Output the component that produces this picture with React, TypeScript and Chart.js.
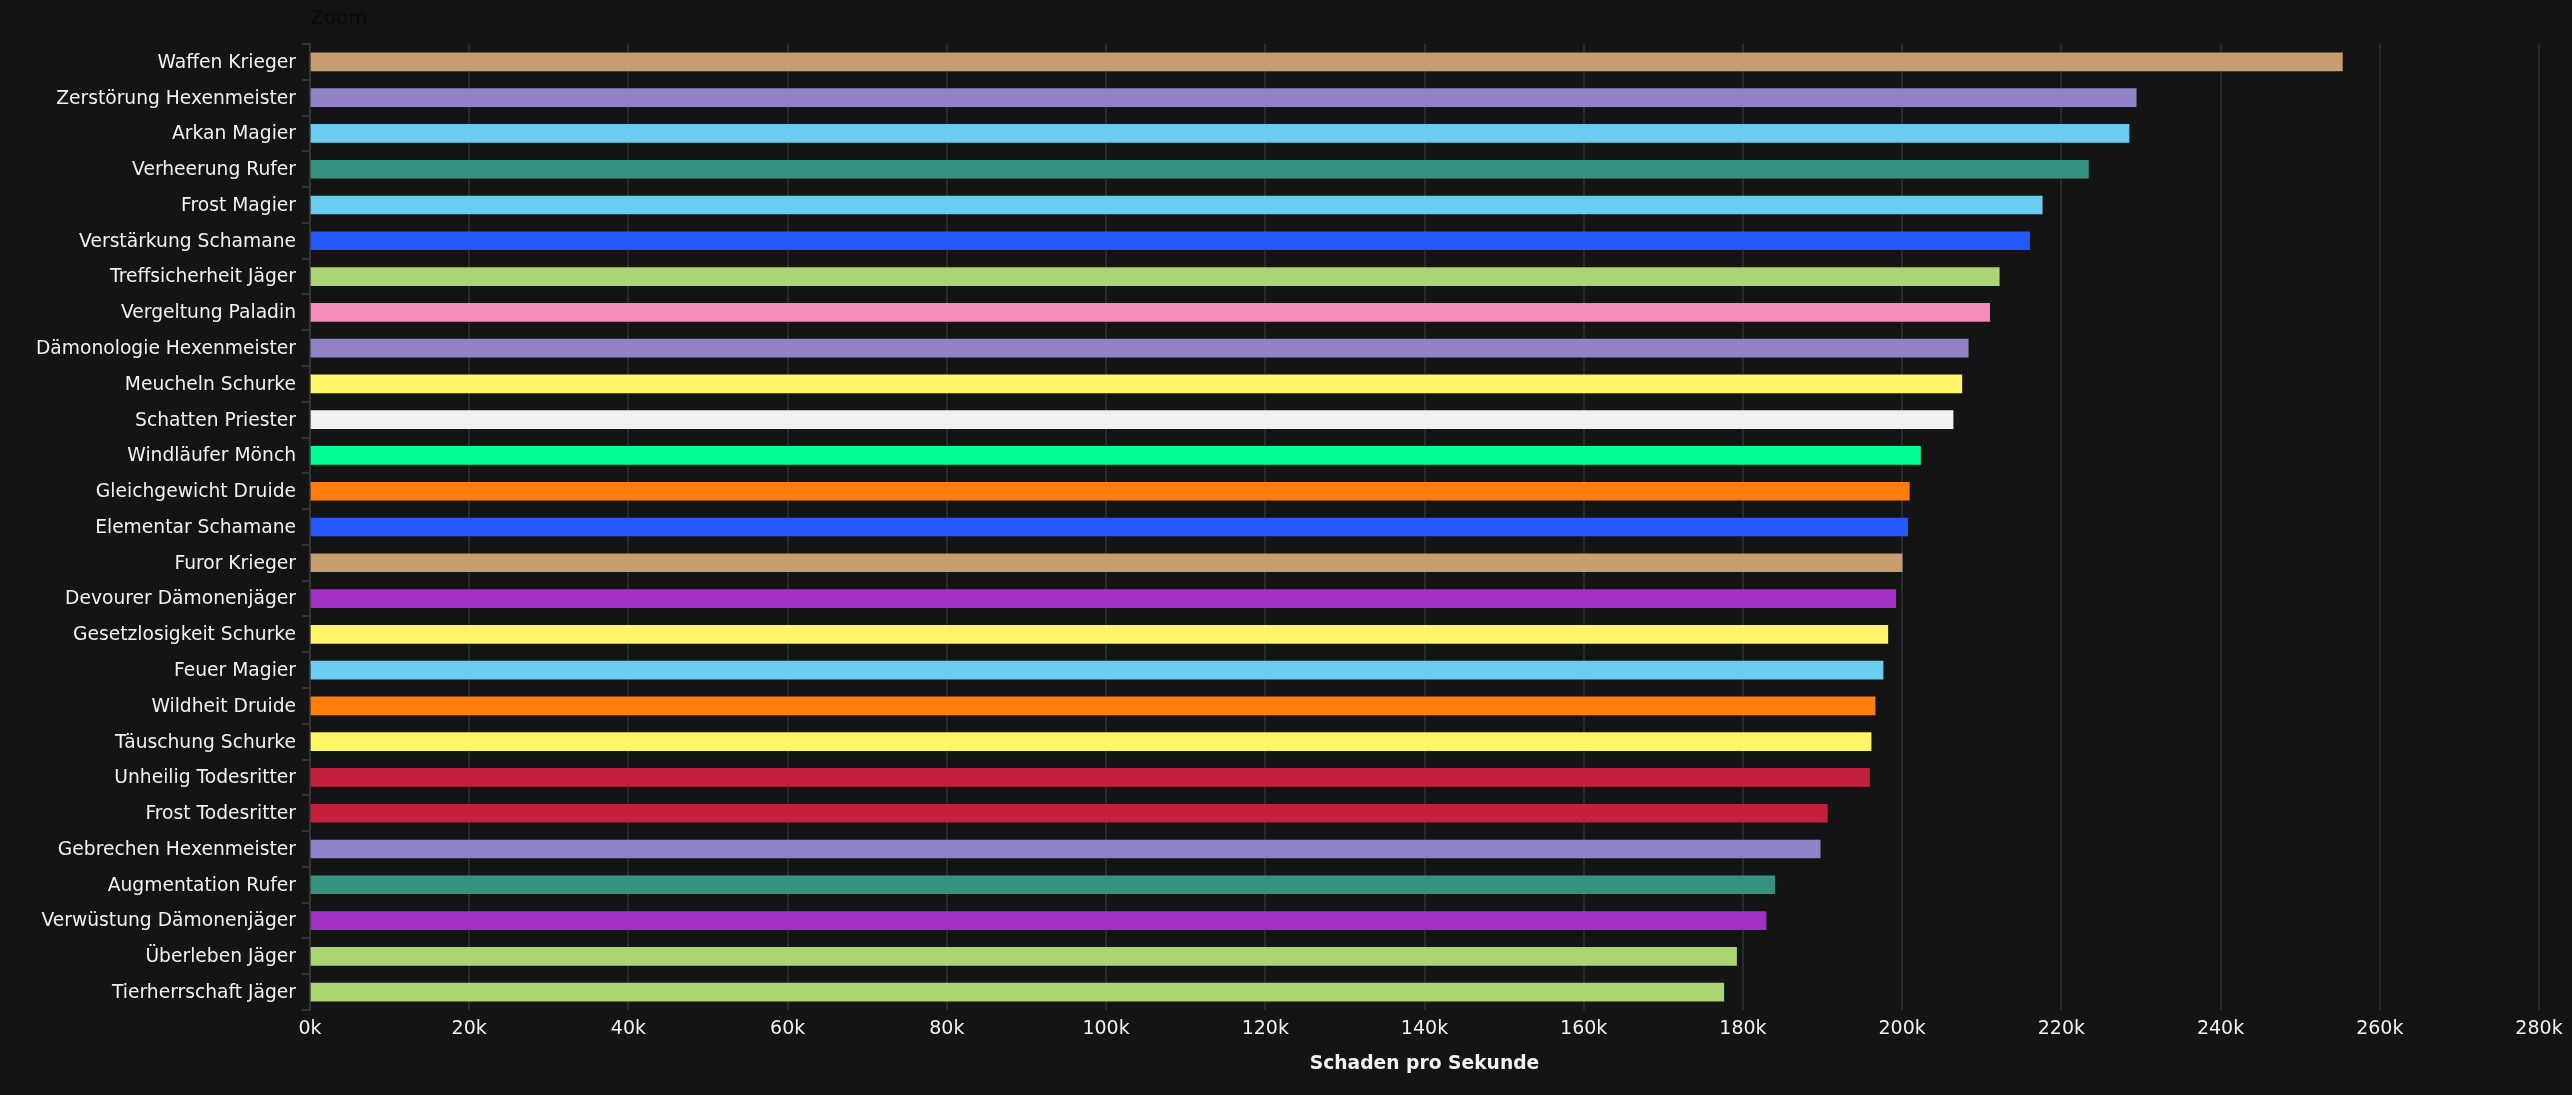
import { useEffect, useRef } from 'react';
import { Chart, registerables } from 'chart.js';

Chart.register(...registerables);

const specs = [
  'Waffen Krieger', 'Zerstörung Hexenmeister', 'Arkan Magier', 'Verheerung Rufer', 'Frost Magier',
  'Verstärkung Schamane', 'Treffsicherheit Jäger', 'Vergeltung Paladin', 'Dämonologie Hexenmeister',
  'Meucheln Schurke', 'Schatten Priester', 'Windläufer Mönch', 'Gleichgewicht Druide', 'Elementar Schamane',
  'Furor Krieger', 'Devourer Dämonenjäger', 'Gesetzlosigkeit Schurke', 'Feuer Magier', 'Wildheit Druide',
  'Täuschung Schurke', 'Unheilig Todesritter', 'Frost Todesritter', 'Gebrechen Hexenmeister',
  'Augmentation Rufer', 'Verwüstung Dämonenjäger', 'Überleben Jäger', 'Tierherrschaft Jäger',
];

const dps = [
  255300, 229400, 228500, 223400, 217600,
  216000, 212200, 211000, 208300,
  207500, 206400, 202300, 200900, 200700,
  200000, 199200, 198200, 197600, 196600,
  196100, 195900, 190600, 189700,
  184000, 182900, 179200, 177600,
];

const WARRIOR = '#c79c6e';
const WARLOCK = '#9482c9';
const MAGE = '#69ccf0';
const EVOKER = '#33937f';
const SHAMAN = '#2459ff';
const HUNTER = '#abd473';
const PALADIN = '#f58cba';
const ROGUE = '#fff569';
const PRIEST = '#f0f0f0';
const MONK = '#00ff96';
const DRUID = '#ff7d0a';
const DEMON_HUNTER = '#a330c9';
const DEATH_KNIGHT = '#c41f3b';

const barColors = [
  WARRIOR, WARLOCK, MAGE, EVOKER, MAGE,
  SHAMAN, HUNTER, PALADIN, WARLOCK,
  ROGUE, PRIEST, MONK, DRUID, SHAMAN,
  WARRIOR, DEMON_HUNTER, ROGUE, MAGE, DRUID,
  ROGUE, DEATH_KNIGHT, DEATH_KNIGHT, WARLOCK,
  EVOKER, DEMON_HUNTER, HUNTER, HUNTER,
];

const FONT = '"DejaVu Sans", sans-serif';

export default function App() {
  const canvasRef = useRef<HTMLCanvasElement>(null);

  useEffect(() => {
    document.body.style.margin = '0';
    document.body.style.background = '#141414';

    const canvas = canvasRef.current;
    if (!canvas) {
      return;
    }

    const chart = new Chart(canvas, {
      type: 'bar',
      data: {
        labels: specs,
        datasets: [
          {
            data: dps,
            backgroundColor: barColors,
            borderColor: barColors,
            borderWidth: 0,
            barThickness: 18,
          },
        ],
      },
      options: {
        indexAxis: 'y',
        responsive: false,
        animation: false,
        layout: {
          padding: { top: 0, right: 33, bottom: 0, left: 0 },
        },
        plugins: {
          legend: { display: false },
          tooltip: { enabled: false },
          title: {
            display: true,
            text: 'Zoom',
            align: 'start',
            fullSize: false,
            color: '#0a0a0a',
            font: { family: FONT, size: 20, weight: 'normal' },
            padding: { top: 7, bottom: 13 },
          },
        },
        scales: {
          x: {
            min: 0,
            max: 280000,
            ticks: {
              stepSize: 20000,
              color: '#f2f2f2',
              font: { family: FONT, size: 19 },
              maxRotation: 0,
              padding: 8,
              callback: value => Number(value) / 1000 + 'k',
            },
            grid: { color: '#2a2a2a', lineWidth: 2, drawTicks: true, tickLength: 0 },
            border: { display: false },
            title: {
              display: true,
              text: 'Schaden pro Sekunde',
              color: '#f2f2f2',
              font: { family: FONT, size: 18.7, weight: 'bold' },
              padding: { top: 8, bottom: 20 },
            },
            afterFit: scale => {
              scale.height = 85;
            },
          },
          y: {
            ticks: {
              color: '#f2f2f2',
              font: { family: FONT, size: 18.7 },
              padding: 6,
              labelOffset: 1,
              autoSkip: false,
            },
            grid: { drawOnChartArea: false, color: '#333333', lineWidth: 2, tickLength: 8 },
            border: { color: '#333333', width: 2 },
            afterFit: scale => {
              scale.width = 310;
            },
          },
        },
      },
    });

    return () => {
      chart.destroy();
    };
  }, []);

  return <canvas ref={canvasRef} width={2572} height={1095} style={{ display: 'block' }} />;
}
